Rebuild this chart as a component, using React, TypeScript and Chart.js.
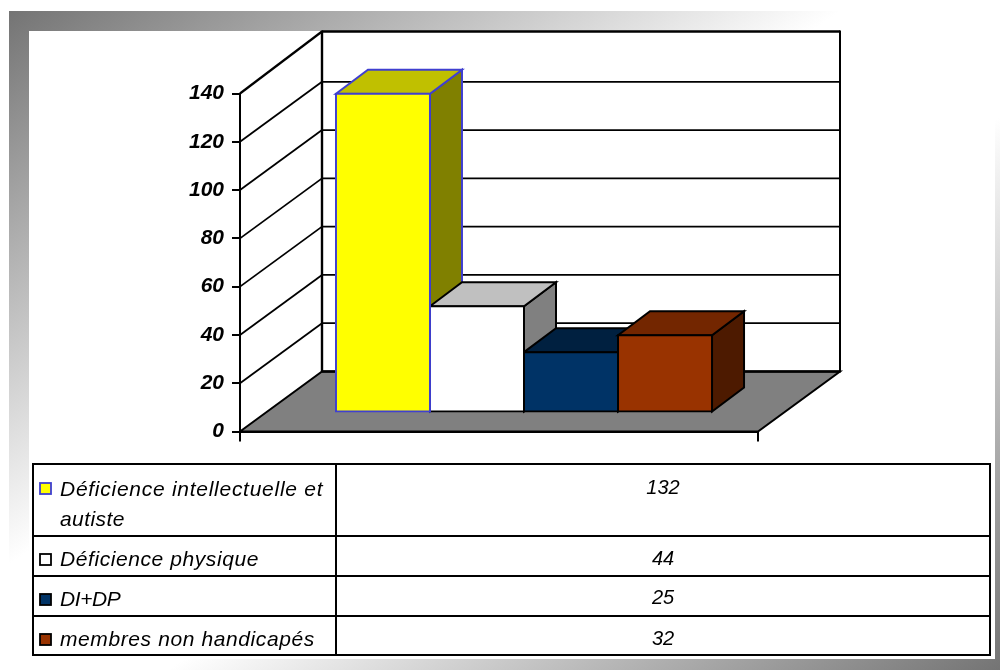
import React, { useEffect, useRef } from "react";
import { Chart, registerables } from "chart.js";

Chart.register(...registerables);

const categoryLabels = [""];
const seriesNames = ["Déficience intellectuelle et|autiste", "Déficience physique", "DI+DP", "membres non handicapés"];
const seriesValues = [132, 44, 25, 32];
const axisMin = 0;
const axisMax = 140;
const axisStep = 20;

const frontColors = ["#ffff00", "#ffffff", "#003366", "#993300"];
const topColors = ["#c0c000", "#c0c0c0", "#002040", "#732600"];
const sideColors = ["#808000", "#808080", "#00264d", "#4d1a00"];
const edgeColors = ["#3f3fd0", "#000000", "#000000", "#000000"];

const FONT = '"Liberation Sans", Arial, sans-serif';
const WALL = { dx: 82, dy: -60, topExtra: -2 };
const BAR_SHIFT = { dx: 25, dy: -19 };
const BAR_DEPTH = { dx: 32, dy: -24 };
const TABLE = { left: 33, mid: 336, right: 990, rows: [464, 536, 576, 616, 655] };
const LINE_SPACING = [[0.73, 0.43], [0.58], [-0.4], [0.6]];

function poly(ctx: CanvasRenderingContext2D, pts: number[][], fill: string | null, stroke: string | null, lw = 2) {
  ctx.beginPath();
  pts.forEach((p, i) => (i ? ctx.lineTo(p[0], p[1]) : ctx.moveTo(p[0], p[1])));
  ctx.closePath();
  if (fill) {
    ctx.fillStyle = fill;
    ctx.fill();
  }
  if (stroke) {
    ctx.strokeStyle = stroke;
    ctx.lineWidth = lw;
    ctx.lineJoin = "miter";
    ctx.stroke();
  }
}

function seg(ctx: CanvasRenderingContext2D, x0: number, y0: number, x1: number, y1: number, lw = 2) {
  ctx.beginPath();
  ctx.moveTo(x0, y0);
  ctx.lineTo(x1, y1);
  ctx.strokeStyle = "#000";
  ctx.lineWidth = lw;
  ctx.stroke();
}

const framePlugin = {
  id: "frameAndWalls",
  beforeDraw(chart: any) {
    const { ctx, chartArea: a, scales } = chart;
    ctx.save();
    const fx = 9, fy = 11, fw = 991, fh = 659;
    const len = (2 * fw * fh) / Math.hypot(fw, fh);
    const nx = fh / Math.hypot(fw, fh), ny = fw / Math.hypot(fw, fh);
    const cx = fx + fw / 2, cy = fy + fh / 2;
    const g = ctx.createLinearGradient(cx - (nx * len) / 2, cy - (ny * len) / 2, cx + (nx * len) / 2, cy + (ny * len) / 2);
    g.addColorStop(0, "#747474");
    g.addColorStop(0.42, "#ffffff");
    g.addColorStop(0.58, "#ffffff");
    g.addColorStop(1, "#747474");
    ctx.fillStyle = g;
    ctx.fillRect(fx, fy, fw, fh);
    ctx.fillStyle = "#ffffff";
    ctx.fillRect(29, 31, 966, 628);

    const y = scales.y;
    const y0 = y.getPixelForValue(axisMin);
    const yT = y.getPixelForValue(axisMax);
    const L = a.left, R = a.right;
    poly(ctx, [[L, y0], [L + WALL.dx, y0 + WALL.dy], [R + WALL.dx, y0 + WALL.dy], [R, y0]], "#808080", "#000", 2);
    ctx.lineCap = "butt";
    const topY = yT + WALL.dy + WALL.topExtra;
    for (let v = axisMin; v <= axisMax; v += axisStep) {
      const p = y.getPixelForValue(v);
      const by = v === axisMax ? topY : p + WALL.dy;
      if (v > axisMin) seg(ctx, L, p, L + WALL.dx, by, v === axisMax ? 2.2 : 1.8);
      seg(ctx, L + WALL.dx, by, R + WALL.dx, by, v === axisMin || v === axisMax ? 2.6 : 1.8);
    }
    seg(ctx, L + WALL.dx, topY - 1, L + WALL.dx, y0 + WALL.dy, 2.4);
    seg(ctx, R + WALL.dx, topY - 1, R + WALL.dx, y0 + WALL.dy + 1, 2);
    ctx.restore();
  },
  beforeDatasetsDraw(chart: any) {
    const ctx = chart.ctx;
    ctx.save();
    ctx.translate(BAR_SHIFT.dx, BAR_SHIFT.dy);
    seriesValues.forEach((_, i) => {
      const el = chart.getDatasetMeta(i).data[0];
      const l = el.x - el.width / 2, r = el.x + el.width / 2;
      const t = el.y, b = el.base;
      const { dx, dy } = BAR_DEPTH;
      poly(ctx, [[r, t], [r + dx, t + dy], [r + dx, b + dy], [r, b]], sideColors[i], edgeColors[i]);
      poly(ctx, [[l, t], [l + dx, t + dy], [r + dx, t + dy], [r, t]], topColors[i], edgeColors[i]);
    });
  },
  afterDatasetsDraw(chart: any) {
    chart.ctx.restore();
  },
  afterDraw(chart: any) {
    const ctx = chart.ctx;
    const T = TABLE;
    ctx.save();
    ctx.strokeStyle = "#000";
    T.rows.forEach((r) => seg(ctx, T.left, r, T.right, r, 2));
    [T.left, T.mid, T.right].forEach((x) => seg(ctx, x, T.rows[0] - 1, x, T.rows[T.rows.length - 1] + 1, 2));
    ctx.fillStyle = "#000";
    ctx.textBaseline = "alphabetic";
    const swatchY = [483, 554, 594, 634];
    const nameY = [496, 566, 606, 646];
    const valueY = [494, 565, 604, 645];
    seriesNames.forEach((name, i) => {
      ctx.fillStyle = frontColors[i];
      ctx.fillRect(40, swatchY[i], 11, 11);
      ctx.strokeStyle = edgeColors[i];
      ctx.lineWidth = 1.8;
      ctx.strokeRect(40, swatchY[i], 11, 11);
      ctx.fillStyle = "#000";
      ctx.textAlign = "left";
      ctx.font = `italic 21px ${FONT}`;
      name.split("|").forEach((line, k) => {
        (ctx as any).letterSpacing = `${LINE_SPACING[i][k]}px`;
        ctx.fillText(line, 60, nameY[i] + k * 30);
      });
      (ctx as any).letterSpacing = "0px";
      ctx.textAlign = "center";
      ctx.font = `italic 20px ${FONT}`;
      ctx.fillText(String(seriesValues[i]), 663, valueY[i]);
    });
    ctx.restore();
  },
};

export default function App() {
  const ref = useRef<HTMLCanvasElement>(null);
  useEffect(() => {
    const chart = new Chart(ref.current as HTMLCanvasElement, {
      type: "bar",
      data: {
        labels: categoryLabels,
        datasets: seriesNames.map((name, i) => ({
          label: name.replace("|", " "),
          data: [seriesValues[i]],
          backgroundColor: frontColors[i],
          borderColor: edgeColors[i],
          borderWidth: 2,
          borderSkipped: false,
          inflateAmount: 1,
          barPercentage: 1,
          categoryPercentage: 0.726,
          clip: false,
        })),
      } as any,
      options: {
        animation: false,
        responsive: false,
        devicePixelRatio: 1,
        layout: { padding: { top: 93.5, left: 0, right: 242, bottom: 0 } },
        plugins: { legend: { display: false }, title: { display: false }, tooltip: { enabled: false } },
        scales: {
          x: {
            afterFit: (s: any) => { s.height = 238.5; },
            border: { display: true, color: "#000", width: 2 },
            grid: { drawOnChartArea: false, drawTicks: true, tickLength: 10, color: "#000", lineWidth: 2 },
            ticks: { display: false },
          },
          y: {
            min: axisMin,
            max: axisMax,
            afterFit: (s: any) => { s.width = 240; },
            border: { display: true, color: "#000", width: 2 },
            grid: { drawOnChartArea: false, drawTicks: true, tickLength: 8, color: "#000", lineWidth: 2 },
            ticks: {
              stepSize: axisStep,
              padding: 8,
              color: "#000",
              font: { family: FONT, size: 21, style: "italic", weight: "bold" },
            },
          },
        },
      } as any,
      plugins: [framePlugin as any],
    });
    return () => chart.destroy();
  }, []);
  return (
    <div style={{ position: "absolute", left: 0, top: 0, width: 1000, height: 670 }}>
      <canvas ref={ref} width={1000} height={670} style={{ display: "block" }} />
    </div>
  );
}
